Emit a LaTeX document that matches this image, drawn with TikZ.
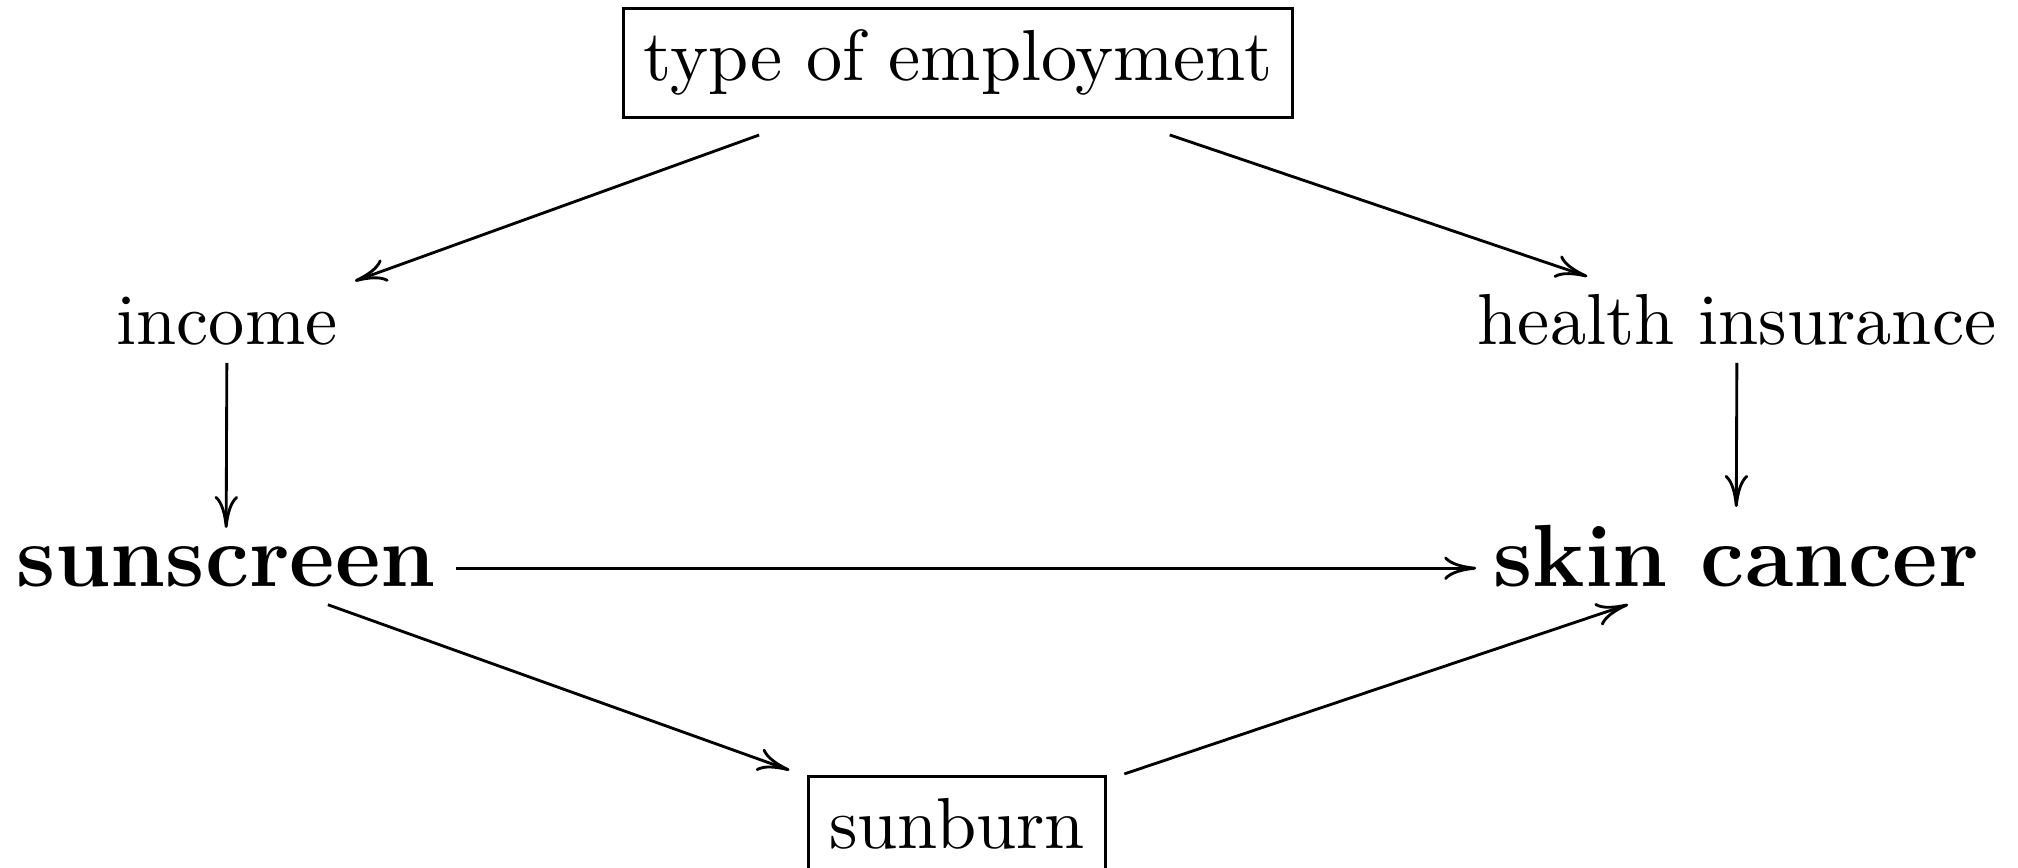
\documentclass[tikz,border=0pt]{standalone}
\usetikzlibrary{arrows.meta}
\begin{document}
\begin{tikzpicture}[x=0.14045pt, y=-0.14045pt,
  every node/.style={anchor=base, inner sep=0pt,
    font=\fontsize{10.15pt}{12pt}\selectfont},
  boxed/.style={draw, line width=0.4pt, inner xsep=2.9pt, inner ysep=3pt},
  key/.style={font=\fontsize{12.4pt}{15pt}\selectfont\bfseries},
  link/.style={line width=0.4pt,
    -{Computer Modern Rightarrow[length=4.5pt,width=3.3pt]}},
]
\useasboundingbox (0,0) rectangle (2018,867);

% variables, placed by their baselines
\node[boxed] (type)      at (958,81)  {type of employment};
\node        (income)    at (227,345) {income};
\node        (health)    at (1737,345) {health insurance};
\node[key]   (sunscreen) at (226,586) {sunscreen};
\node[key]   (skin)      at (1736,586) {skin cancer};
\node[boxed] (sunburn)   at (957,848) {sunburn};

% causal arrows, aimed at the math axis of each label
\draw[link, shorten <=29.7pt, shorten >=19.1pt]
  ([yshift=2.5pt]type.base) -- ([yshift=2.5pt]income.base);
\draw[link, shorten <=31.4pt, shorten >=22.2pt]
  ([yshift=2.5pt]type.base) -- ([yshift=2.5pt]health.base);
\draw[link, shorten <=5.0pt, shorten >=5.65pt]
  ([yshift=2.5pt]income.base) -- ([yshift=2.5pt]sunscreen.base);
\draw[link, shorten <=5.0pt, shorten >=8.6pt]
  ([yshift=2.5pt]health.base) -- ([yshift=2.5pt]skin.base);
\draw[link, shorten <=32.3pt, shorten >=36.5pt]
  ([yshift=2.5pt]sunscreen.base) -- ([yshift=2.5pt]skin.base);
\draw[link, shorten <=15.2pt, shorten >=25pt]
  ([yshift=2.5pt]sunscreen.base) -- ([yshift=2.5pt]sunburn.base);
\draw[link, shorten <=24.8pt, shorten >=16pt]
  ([yshift=2.5pt]sunburn.base) -- ([yshift=2.5pt]skin.base);
\end{tikzpicture}
\end{document}
